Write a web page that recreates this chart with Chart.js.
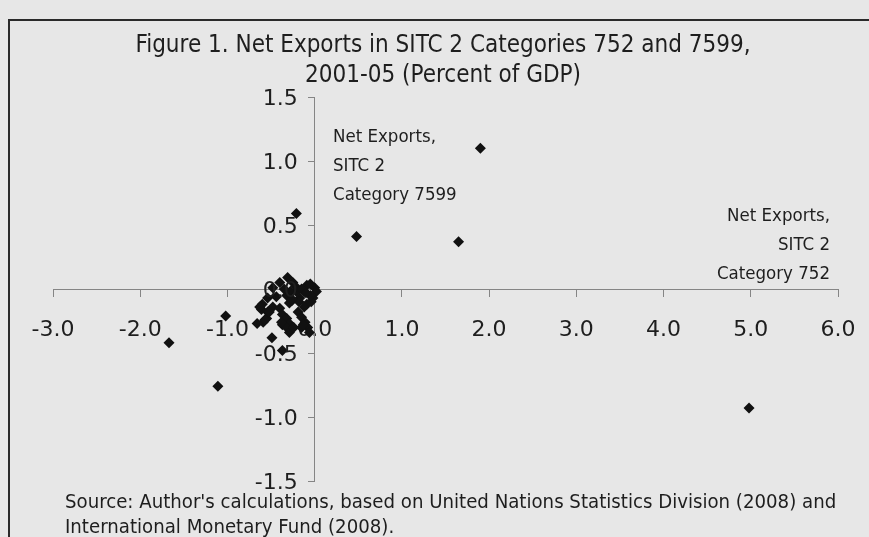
<!DOCTYPE html>
<html>
<head>
<meta charset="utf-8">
<script src="https://cdn.jsdelivr.net/npm/chart.js@4/dist/chart.umd.min.js"></script>
<style>
  html, body { margin: 0; padding: 0; background: #e7e7e7; }
  #wrap { width: 869px; height: 537px; position: relative; }
</style>
</head>
<body>
<div id="wrap"><canvas id="c" width="869" height="537"></canvas></div>
<script>
// Net exports, percent of GDP, 2001-05: one point per country
const netExports752 = [
  1.90, 0.48, 1.65, -0.21, 4.98, -1.67, -1.11, -1.02,
  -0.31, -0.40, -0.48, -0.25, -0.09, 0.00, 0.02, -0.02, -0.09, -0.17,
  -0.21, -0.32, -0.44, -0.54, -0.60, -0.61, -0.54, -0.48, -0.40, -0.29,
  -0.37, -0.32, -0.29, -0.37, -0.32, -0.29, -0.38, -0.19, -0.15, -0.11,
  -0.08, -0.06, -0.15, -0.55, -0.59, -0.66, -0.57, -0.52, -0.63, -0.49,
  -0.37, -0.12, -0.04, -0.26,
  -0.28, -0.22, -0.15, -0.05, -0.10, -0.18, -0.26, -0.12, -0.05, -0.35,
  -0.13, -0.24
];
const netExports7599 = [
  1.10, 0.41, 0.37, 0.59, -0.93, -0.42, -0.76, -0.21,
  0.09, 0.05, 0.01, 0.05, 0.03, 0.01, -0.02, -0.07, -0.12, -0.07,
  -0.02, -0.05, -0.06, -0.07, -0.12, -0.16, -0.18, -0.14, -0.15, -0.11,
  -0.20, -0.23, -0.27, -0.28, -0.30, -0.34, -0.26, -0.18, -0.22, -0.26,
  -0.30, -0.34, -0.30, -0.23, -0.26, -0.27, -0.24, -0.18, -0.14, -0.38,
  -0.48, -0.02, -0.10, -0.09,
  -0.02, 0.02, 0.00, -0.05, -0.03, -0.10, -0.08, -0.14, 0.04, 0.00,
  -0.28, -0.30
];

const xTicks = [-3, -2, -1, 0, 1, 2, 3, 4, 5, 6];
const yTicks = [-1.5, -1.0, -0.5, 0, 0.5, 1.0, 1.5];

const titleLines = [
  'Figure 1. Net Exports in SITC 2 Categories 752 and 7599,',
  '2001-05 (Percent of GDP)'
];
const yAxisNote = ['Net Exports,', 'SITC 2', 'Category 7599'];
const xAxisNote = ['Net Exports,', 'SITC 2', 'Category 752'];
const sourceLines = [
  "Source: Author's calculations, based on United Nations Statistics Division (2008) and",
  'International Monetary Fund (2008).'
];

const TEXT_FONT = '"DejaVu Sans Condensed", "DejaVu Sans", sans-serif';
const TICK_FONT = '"DejaVu Sans", sans-serif';
const INK = '#1e1e1e';
const AXIS = '#858585';

const points = netExports752.map((x, i) => ({ x, y: netExports7599[i] }));

// Background, frame, value labels of the vertical axis and the text blocks
const decorations = {
  id: 'decorations',
  beforeDraw(chart) {
    const ctx = chart.ctx;
    ctx.save();
    ctx.fillStyle = '#e7e7e7';
    ctx.fillRect(0, 0, chart.width, chart.height);
    ctx.strokeStyle = '#2a2a2a';
    ctx.lineWidth = 2;
    ctx.beginPath();
    ctx.moveTo(9, chart.height);
    ctx.lineTo(9, 20);
    ctx.lineTo(chart.width, 20);
    ctx.stroke();
    ctx.restore();
  },
  afterDraw(chart) {
    const ctx = chart.ctx;
    const xs = chart.scales.x;
    const ys = chart.scales.y;
    ctx.save();
    ctx.fillStyle = INK;
    ctx.textBaseline = 'middle';

    // labels of the vertical axis, set left of the axis line
    ctx.font = '22px ' + TICK_FONT;
    ctx.textAlign = 'right';
    const axisX = xs.getPixelForValue(0);
    ys.ticks.forEach(t => {
      ctx.fillText(Number(t.value).toFixed(1), axisX - 17, ys.getPixelForValue(t.value) + 2);
    });

    ctx.font = '24px ' + TEXT_FONT;
    ctx.textAlign = 'center';
    titleLines.forEach((t, i) => ctx.fillText(t, 443, 46 + i * 30));

    ctx.font = '18.5px ' + TEXT_FONT;
    ctx.textAlign = 'left';
    yAxisNote.forEach((t, i) => ctx.fillText(t, 333, 137 + i * 29));

    ctx.textAlign = 'right';
    xAxisNote.forEach((t, i) => ctx.fillText(t, 830, 216 + i * 29));

    ctx.font = '20.2px ' + TEXT_FONT;
    ctx.textAlign = 'left';
    sourceLines.forEach((t, i) => ctx.fillText(t, 65, 503 + i * 25));
    ctx.restore();
  }
};

Chart.defaults.font.family = TICK_FONT;
Chart.defaults.color = INK;

new Chart(document.getElementById('c'), {
  type: 'scatter',
  data: {
    datasets: [{
      data: points,
      pointStyle: 'rectRot',
      pointRadius: 5.5,
      pointHoverRadius: 5.5,
      backgroundColor: '#111',
      borderColor: '#111',
      borderWidth: 0
    }]
  },
  options: {
    responsive: false,
    animation: false,
    events: [],
    layout: { padding: { left: 53, right: 31, top: 97, bottom: 56 } },
    plugins: { legend: { display: false }, tooltip: { enabled: false }, title: { display: false } },
    scales: {
      x: {
        type: 'linear',
        position: { y: 0 },
        min: xTicks[0],
        max: xTicks[xTicks.length - 1],
        afterBuildTicks(scale) { scale.ticks = xTicks.map(v => ({ value: v })); },
        // the outer labels fit inside the layout padding already
        afterFit(scale) { scale.paddingLeft = 0; scale.paddingRight = 0; },
        ticks: {
          font: { size: 22 },
          color: INK,
          padding: 21,
          maxRotation: 0,
          autoSkip: false,
          callback: v => Number(v).toFixed(1)
        },
        grid: { drawOnChartArea: false, drawTicks: true, tickLength: 7, color: AXIS },
        border: { display: true, color: AXIS, width: 1 }
      },
      y: {
        type: 'linear',
        position: { x: 0 },
        min: yTicks[0],
        max: yTicks[yTicks.length - 1],
        afterBuildTicks(scale) { scale.ticks = yTicks.map(v => ({ value: v })); },
        afterFit(scale) { scale.paddingTop = 0; scale.paddingBottom = 0; },
        ticks: { display: false },
        grid: { drawOnChartArea: false, drawTicks: true, tickLength: 6, color: AXIS },
        border: { display: true, color: AXIS, width: 1 }
      }
    }
  },
  plugins: [decorations]
});
</script>
</body>
</html>
